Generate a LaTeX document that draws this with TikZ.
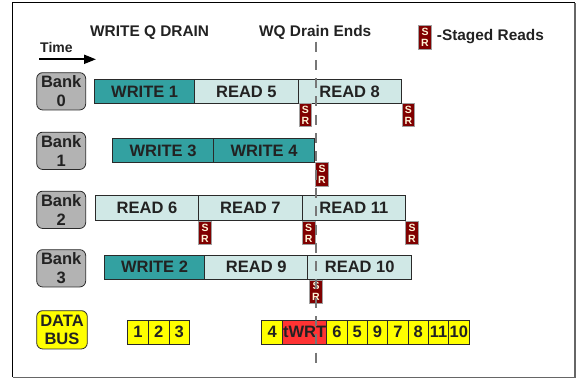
\documentclass[tikz,border=0pt]{standalone}
\usepackage{fontspec}
\setmainfont{Liberation Sans}
\usetikzlibrary{arrows.meta}
\definecolor{writec}{HTML}{33A1A1}
\definecolor{readc}{HTML}{D0E8E6}
\definecolor{bankc}{HTML}{B3B3B3}
\definecolor{srfill}{HTML}{800000}
\definecolor{srline}{HTML}{A0A0A0}
\definecolor{srtext}{HTML}{FFF4D6}
\definecolor{txt}{HTML}{222222}
\definecolor{barline}{HTML}{2A2A2A}
\definecolor{dashc}{HTML}{777777}
\definecolor{dbyellow}{HTML}{FFFF00}
\definecolor{dbred}{HTML}{FF3333}
\tikzset{
  bar/.style={draw=barline, line width=0.8pt, minimum height=24.4pt, inner sep=0pt, outer sep=0pt,
    font=\fontsize{16.5}{18}\selectfont\bfseries, text=txt, anchor=west},
  wr/.style={bar, fill=writec},
  rd/.style={bar, fill=readc},
  bank/.style={draw=barline, line width=0.8pt, fill=bankc, rounded corners=6pt, minimum width=49pt,
    minimum height=37.3pt, align=center, inner sep=0pt,
    font=\fontsize{16.5}{18.7}\selectfont\bfseries, text=txt},
  sr/.style={draw=srline, line width=0.8pt, fill=srfill, minimum width=12.7pt, minimum height=23.4pt,
    inner sep=0pt, align=center, font=\fontsize{10.5}{11}\selectfont\bfseries, text=srtext},
  db/.style={draw=barline, line width=0.8pt, fill=dbyellow, minimum height=24.3pt, inner sep=0pt,
    outer sep=0pt, font=\fontsize{16.5}{16.5}\selectfont\bfseries, anchor=west, text=txt},
  hdr/.style={font=\fontsize{15.4}{17}\selectfont\bfseries, text=txt, inner sep=0pt, anchor=base west},
}
\begin{document}
\begin{tikzpicture}[x=1pt,y=-1pt]
\useasboundingbox (0,0) rectangle (576,381);
% frame
\draw[black, line width=0.8pt] (12.5,377) -- (12.5,2.5) -- (574.5,2.5);
\draw[gray!80!black, line width=1.6pt] (12.5,377.3) -- (574.7,377.3) -- (574.7,2.5);

% headers
\node[hdr] (h1) at (90,36.7) {WRITE Q DRAIN};
\node[hdr] (h2) at (259,36.7) {WQ Drain Ends};
\node[hdr] (h3) at (436.7,40.3) {-Staged Reads};
\node[sr] (lsr) at (425,37.5) {S\\R};
\node[font=\fontsize{14}{16}\selectfont\bfseries, text=txt, inner sep=0pt, anchor=base west] (time) at (40,52.7) {Time};
\coordinate (ta) at (39,59.3);
\coordinate (tb) at (96,59.3);
\draw[line width=2pt, -{Triangle[length=12pt,width=9pt]}] (ta) -- (tb);

% bank labels
\node[bank] (b0) at (61.2,91.3) {Bank\\0};
\node[bank] (b1) at (61.2,150.8) {Bank\\1};
\node[bank] (b2) at (61.2,209.8) {Bank\\2};
\node[bank] (b3) at (61.2,268.3) {Bank\\3};
\node[bank, fill=dbyellow, minimum width=50.6pt, minimum height=38.3pt] (dbus) at (62,329.8) {DATA\\BUS};

% bank 0
\node[wr, minimum width=100pt] (w1) at (94.7,91.5) {WRITE 1};
\node[rd, minimum width=103.3pt] (r5) at (w1.east) {READ 5};
\node[rd, minimum width=103.3pt] (r8) at (r5.east) {READ 8};
\node[sr] (s01) at (305.3,115) {S\\R};
\node[sr] (s02) at (408.3,115) {S\\R};

% bank 1
\node[wr, minimum width=100.6pt] (w3) at (112.7,150.5) {WRITE 3};
\node[wr, minimum width=101.4pt] (w4) at (w3.east) {WRITE 4};
\node[sr] (s11) at (322,174.2) {S\\R};

% bank 2
\node[rd, minimum width=103.4pt] (r6) at (95.3,208) {READ 6};
\node[rd, minimum width=103.3pt] (r7) at (r6.east) {READ 7};
\node[rd, minimum width=103.7pt] (r11) at (r7.east) {READ 11};
\node[sr] (s21) at (205,233) {S\\R};
\node[sr] (s22) at (308.7,233) {S\\R};
\node[sr] (s23) at (412,233) {S\\R};

% bank 3
\node[wr, minimum width=100.4pt] (w2) at (104.3,267.2) {WRITE 2};
\node[rd, minimum width=103pt] (r9) at (w2.east) {READ 9};
\node[rd, minimum width=104pt] (r10) at (r9.east) {READ 10};
\node[sr] (s31) at (316,291.7) {S\\R};

% data bus
\node[db, minimum width=20.6pt] (d1) at (127.7,332.2) {1};
\node[db, minimum width=20.6pt] (d2) at (d1.east) {2};
\node[db, minimum width=20.6pt] (d3) at (d2.east) {3};
\node[db, minimum width=21pt] (d4) at (261.7,332.2) {4};
\node[db, minimum width=44pt, fill=dbred] (dt) at (d4.east) {tWRT};
\node[db, minimum width=20.33pt] (d6) at (dt.east) {6};
\node[db, minimum width=20.33pt] (d5) at (d6.east) {5};
\node[db, minimum width=20.33pt] (d9) at (d5.east) {9};
\node[db, minimum width=20.33pt] (d7) at (d9.east) {7};
\node[db, minimum width=20.33pt] (d8) at (d7.east) {8};
\node[db, minimum width=20.33pt] (d11) at (d8.east) {11};
\node[db, minimum width=20.33pt] (d10) at (d11.east) {10};

% drain end line
\coordinate (dtop) at (315.7,41.5);
\coordinate (dbot) at (315.7,367);
\draw[dashc, line width=1.8pt, dash pattern=on 10pt off 8.3pt] (dtop) -- (dbot);
\end{tikzpicture}
\end{document}
